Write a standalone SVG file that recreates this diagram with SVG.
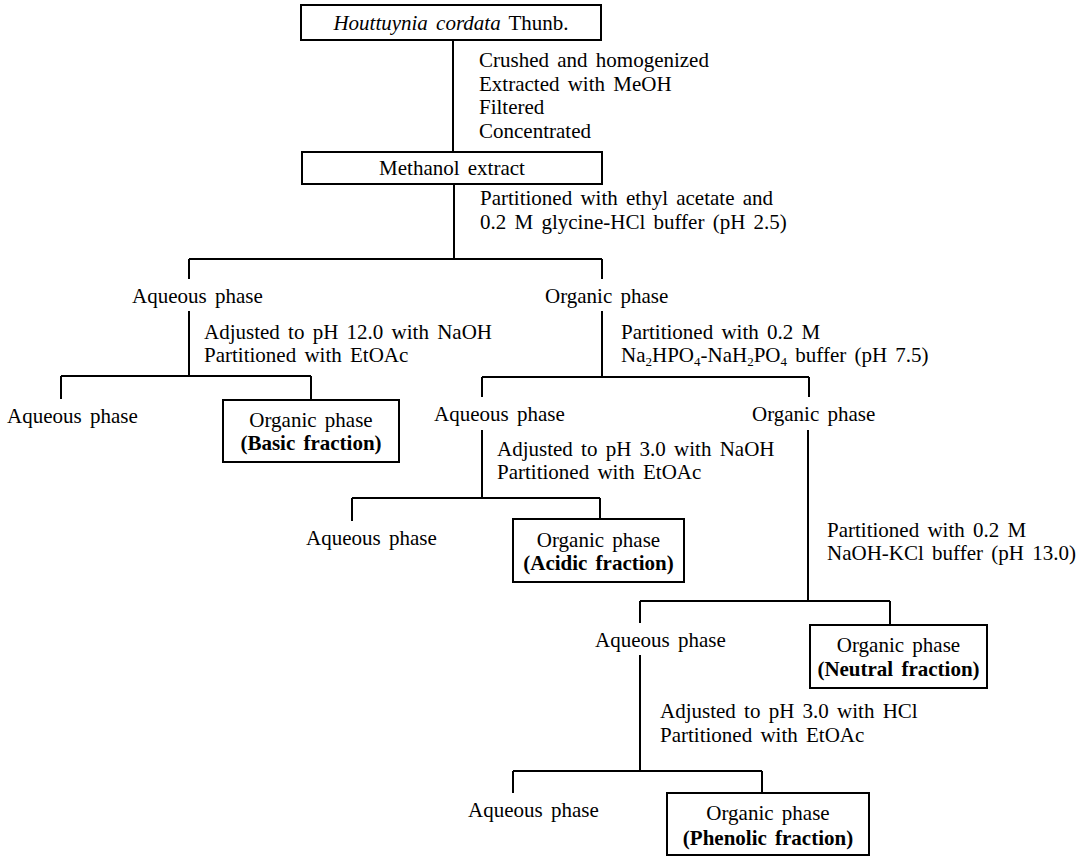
<svg xmlns="http://www.w3.org/2000/svg" width="1086" height="856" viewBox="0 0 1086 856">
<style>
text{font-family:"Liberation Serif","Times New Roman",serif;font-size:21px;fill:#000;word-spacing:3px}
.m{text-anchor:middle}
.b{font-weight:bold}
.i{font-style:italic}
.box{fill:#fff;stroke:#000;stroke-width:2}
.ln{fill:none;stroke:#000;stroke-width:2}
.sub{font-size:13px}
</style>
<rect width="1086" height="856" fill="#fff"/>
<g id="connectors" class="ln">
<path d="M453 40V152"/>
<path d="M454 184V259M189 259H602M189 259V279M602 259V279"/>
<path d="M189 311V376M61 376H311M61 376V399M311 376V400"/>
<path d="M602 311V377M482 377H809M482 377V397M809 377V397"/>
<path d="M482 430V498M352 498H600M352 498V521M600 498V519"/>
<path d="M808 430V601M640 601H890M640 601V623M890 601V625"/>
<path d="M640 655V771M513 771H762M513 771V793M762 771V793"/>
</g>
<g id="node-houttuynia">
<rect class="box" x="301" y="5" width="300" height="35"/>
<text class="m" x="451" y="30"><tspan class="i">Houttuynia cordata</tspan> Thunb.</text>
</g>
<g id="step-extraction">
<text x="479" y="67">Crushed and homogenized</text>
<text x="479" y="90.5">Extracted with MeOH</text>
<text x="479" y="114">Filtered</text>
<text x="479" y="137.5">Concentrated</text>
</g>
<g id="node-methanol">
<rect class="box" x="302" y="152" width="300" height="32"/>
<text class="m" x="452" y="175">Methanol extract</text>
</g>
<g id="step-partition1">
<text x="480" y="205">Partitioned with ethyl acetate and</text>
<text x="480" y="228.5">0.2 M glycine-HCl buffer (pH 2.5)</text>
</g>
<g id="node-aq1"><text x="132" y="303">Aqueous phase</text></g>
<g id="node-org1"><text x="545" y="303">Organic phase</text></g>
<g id="step-basic">
<text x="204" y="339">Adjusted to pH 12.0 with NaOH</text>
<text x="204" y="362">Partitioned with EtOAc</text>
</g>
<g id="step-partition2">
<text x="621" y="339">Partitioned with 0.2 M</text>
<text x="621" y="362">Na<tspan class="sub" dy="4">2</tspan><tspan dy="-4">HPO</tspan><tspan class="sub" dy="4">4</tspan><tspan dy="-4">-NaH</tspan><tspan class="sub" dy="4">2</tspan><tspan dy="-4">PO</tspan><tspan class="sub" dy="4">4</tspan><tspan dy="-4"> buffer (pH 7.5)</tspan></text>
</g>
<g id="node-aq2"><text x="7" y="423">Aqueous phase</text></g>
<g id="node-basic">
<rect class="box" x="223" y="400" width="176" height="62"/>
<text class="m" x="311" y="427">Organic phase</text>
<text class="m b" x="311" y="449.5">(Basic fraction)</text>
</g>
<g id="node-aq3"><text x="434" y="421">Aqueous phase</text></g>
<g id="node-org3"><text x="752" y="421">Organic phase</text></g>
<g id="step-acidic">
<text x="497" y="456">Adjusted to pH 3.0 with NaOH</text>
<text x="497" y="479">Partitioned with EtOAc</text>
</g>
<g id="node-aq4"><text x="306" y="545">Aqueous phase</text></g>
<g id="node-acidic">
<rect class="box" x="513" y="519" width="171" height="63"/>
<text class="m" x="598.5" y="546.5">Organic phase</text>
<text class="m b" x="598.5" y="570">(Acidic fraction)</text>
</g>
<g id="step-partition3">
<text x="827" y="537">Partitioned with 0.2 M</text>
<text x="827" y="560">NaOH-KCl buffer (pH 13.0)</text>
</g>
<g id="node-aq5"><text x="595" y="647">Aqueous phase</text></g>
<g id="node-neutral">
<rect class="box" x="810" y="625" width="177" height="63"/>
<text class="m" x="898.5" y="652">Organic phase</text>
<text class="m b" x="898.5" y="676">(Neutral fraction)</text>
</g>
<g id="step-phenolic">
<text x="660" y="718">Adjusted to pH 3.0 with HCl</text>
<text x="660" y="742">Partitioned with EtOAc</text>
</g>
<g id="node-aq6"><text x="468" y="817">Aqueous phase</text></g>
<g id="node-phenolic">
<rect class="box" x="667" y="793" width="202" height="62"/>
<text class="m" x="768" y="820">Organic phase</text>
<text class="m b" x="768" y="845">(Phenolic fraction)</text>
</g>
</svg>
